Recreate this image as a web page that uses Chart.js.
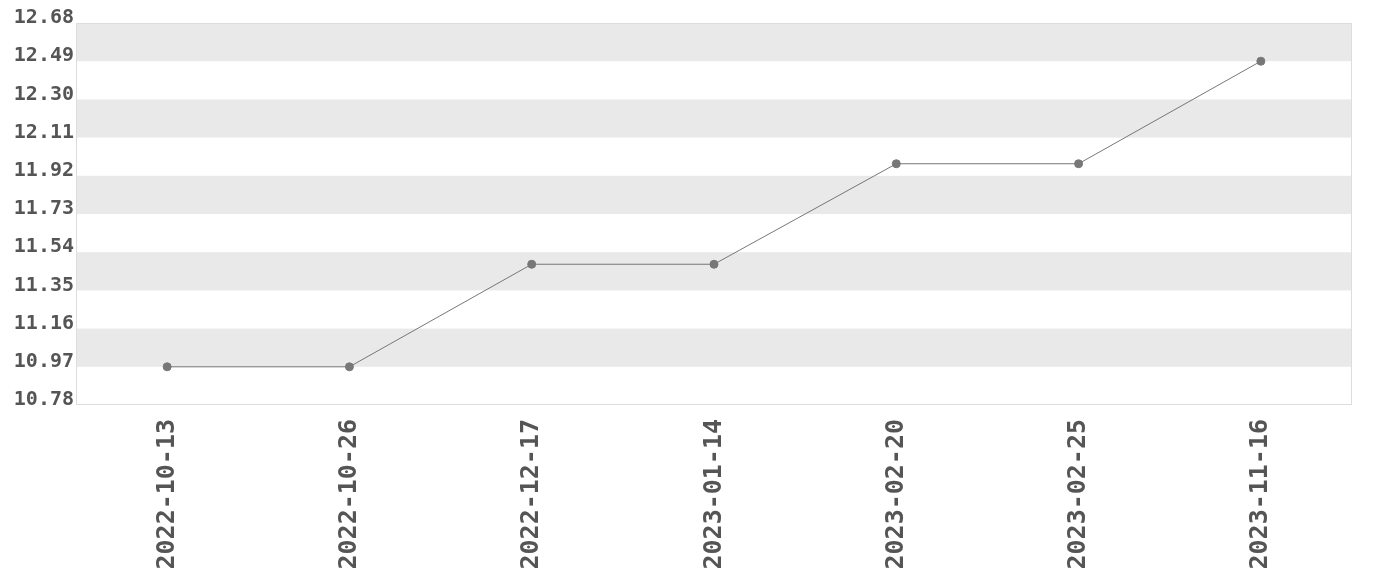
<!DOCTYPE html>
<html>
<head>
<meta charset="utf-8">
<script src="https://cdn.jsdelivr.net/npm/chart.js@4.4.0/dist/chart.umd.min.js"></script>
<style>
  html, body { margin: 0; padding: 0; background: #fff; }
  #wrap { width: 1380px; height: 580px; }
</style>
</head>
<body>
<div id="wrap"><canvas id="chart"></canvas></div>
<script>
// data
const dates = ['2022-10-13', '2022-10-26', '2022-12-17', '2023-01-14', '2023-02-20', '2023-02-25', '2023-11-16'];
const values = [10.97, 10.97, 11.48, 11.48, 11.98, 11.98, 12.49];
const yMin = 10.78;
const yMax = 12.68;
const yStep = 0.19;

// alternating gray bands + thin frame round the plot area
const bandPlugin = {
  id: 'bands',
  beforeDatasetsDraw(chart) {
    const { ctx, chartArea, scales } = chart;
    const y = scales.y;
    ctx.save();
    ctx.fillStyle = '#e9e9e9';
    for (let i = 0; i < y.ticks.length - 1; i++) {
      const top = y.ticks.length - 1 - i;
      if (i % 2 !== 0) continue;
      const y1 = y.getPixelForValue(y.ticks[top].value);
      const y2 = y.getPixelForValue(y.ticks[top - 1].value);
      ctx.fillRect(chartArea.left, y1, chartArea.right - chartArea.left, y2 - y1);
    }
    ctx.strokeStyle = '#dddddd';
    ctx.lineWidth = 1;
    ctx.strokeRect(chartArea.left + 0.5, chartArea.top + 0.5, chartArea.right - chartArea.left - 1, chartArea.bottom - chartArea.top - 1);
    ctx.restore();
  }
};

const yFont = { family: '"DejaVu Sans Mono", monospace', size: 20, weight: 'bold' };
const xFont = { family: '"DejaVu Sans Mono", monospace', size: 25, weight: 'bold' };

new Chart(document.getElementById('chart'), {
  type: 'line',
  data: {
    labels: dates,
    datasets: [{
      data: values,
      borderColor: '#777777',
      borderWidth: 1,
      pointBackgroundColor: '#777777',
      pointBorderColor: '#777777',
      pointRadius: 4,
      tension: 0
    }]
  },
  options: {
    responsive: true,
    maintainAspectRatio: false,
    animation: false,
    layout: { padding: { top: 23, right: 28, bottom: 0, left: 0 } },
    plugins: { legend: { display: false }, tooltip: { enabled: false } },
    scales: {
      x: {
        offset: true,
        afterFit: s => { s.height = 175; },
        grid: { display: false, drawTicks: false },
        border: { display: false },
        ticks: { color: '#555555', font: xFont, minRotation: 90, maxRotation: 90, padding: 14 }
      },
      y: {
        min: yMin,
        max: yMax,
        afterFit: s => { s.width = 76; },
        grid: { display: false, drawTicks: false },
        border: { display: false },
        ticks: {
          stepSize: yStep,
          color: '#555555',
          font: yFont,
          padding: 2,
          labelOffset: -5,
          callback: v => v.toFixed(2)
        }
      }
    }
  },
  plugins: [bandPlugin]
});
</script>
</body>
</html>
